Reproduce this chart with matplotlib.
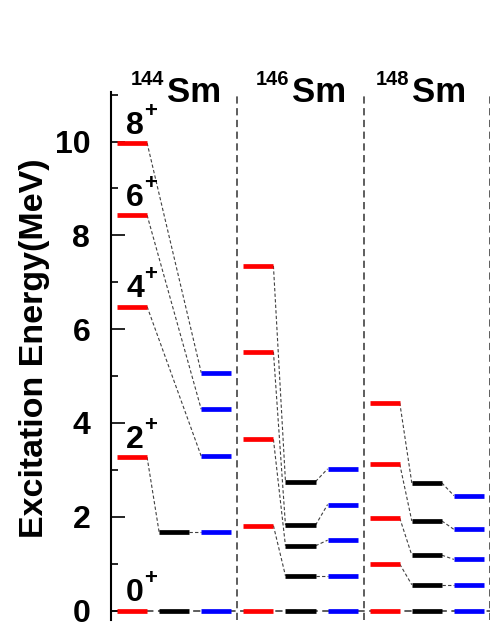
import matplotlib
matplotlib.use("Agg")
import matplotlib.pyplot as plt
from matplotlib.ticker import MultipleLocator

plt.rcParams['font.family'] = ['Liberation Sans', 'DejaVu Sans']

# ---- data (MeV) ----
nuclei = ["144", "146", "148"]
spins = ["0", "2", "4", "6", "8"]
e144_red = [0, 3.27, 6.48, 8.43, 9.97]
e144_black = [0, 1.67]
e144_blue = [0, 1.67, 3.29, 4.29, 5.07]
e146_red = [0, 1.81, 3.65, 5.52, 7.35]
e146_black = [0, 0.74, 1.38, 1.82, 2.75]
e146_blue = [0, 0.74, 1.50, 2.26, 3.02]
e148_red = [0, 0.99, 1.97, 3.12, 4.43]
e148_black = [0, 0.55, 1.18, 1.91, 2.72]
e148_blue = [0, 0.55, 1.09, 1.73, 2.45]
yticks = [0, 2, 4, 6, 8, 10]

sets = [(e144_red, e144_black, e144_blue),
        (e146_red, e146_black, e146_blue),
        (e148_red, e148_black, e148_blue)]
colors = ['#ff0000', '#000000', '#0000ff']

fig = plt.figure(figsize=(4.91, 6.35), dpi=100)
ax = fig.add_axes([111/491, 15.1/635, 379/491, 527.6/635])
ax.set_xlim(0, 9)
ax.set_ylim(-0.2, 11.05)

hw = 0.357
dash_conn = dict(color='#404040', lw=0.8, linestyle=(0, (3, 2)))
sep_style = dict(color='#505050', lw=1.3, linestyle=(0, (4, 2.5)))

ax.axhline(0, **sep_style, zorder=1)
for i in range(3):
    ax.axvline(3 * (i + 1), **sep_style, zorder=1)

for i, (red, black, blue) in enumerate(sets):
    xs = [3 * i + 0.5, 3 * i + 1.5, 3 * i + 2.5]
    for series, xc, c in zip((red, black, blue), xs, colors):
        ax.hlines(series, xc - hw, xc + hw, colors=c, lw=3.4, zorder=3)
    for k in range(1, len(red)):
        if k < len(black):
            ax.plot([xs[0] + hw, xs[1] - hw], [red[k], black[k]], **dash_conn, zorder=2)
            ax.plot([xs[1] + hw, xs[2] - hw], [black[k], blue[k]], **dash_conn, zorder=2)
        else:
            ax.plot([xs[0] + hw, xs[2] - hw], [red[k], blue[k]], **dash_conn, zorder=2)

# spin labels for 144Sm
for s, e in zip(spins, e144_red):
    ax.text(0.36, e + 0.2, s, fontsize=23, fontweight='bold', ha='left', va='baseline', zorder=4)
    ax.text(0.79, e + 0.2 + 0.36, '+', fontsize=16, fontweight='bold', ha='left', va='baseline', zorder=4)

# nucleus labels
sm_left = [1.32, 4.30, 7.14]
for n, xl in zip(nuclei, sm_left):
    ax.text(xl, 10.85, 'Sm', fontsize=25, fontweight='bold', ha='left', va='baseline', clip_on=False)
    ax.text(xl - 0.06, 11.2, n, fontsize=14.5, fontweight='bold', ha='right', va='baseline', clip_on=False)

for sp in ['top', 'right', 'bottom']:
    ax.spines[sp].set_visible(False)
ax.spines['left'].set_linewidth(1.5)
ax.set_xticks([])
ax.set_yticks(yticks)
ax.yaxis.set_minor_locator(MultipleLocator(1))
ax.tick_params(axis='y', which='major', direction='in', length=10, width=1.2,
               labelsize=23, pad=15)
ax.tick_params(axis='y', which='minor', direction='in', length=5, width=1.2)
for lab in ax.get_yticklabels():
    lab.set_fontweight('bold')

fig.text(35/491, 1 - 348.5/635, 'Excitation Energy(MeV)', rotation=90, fontsize=24.5,
         fontweight='bold', ha='center', va='center')

fig.savefig('out.png', dpi=100)
